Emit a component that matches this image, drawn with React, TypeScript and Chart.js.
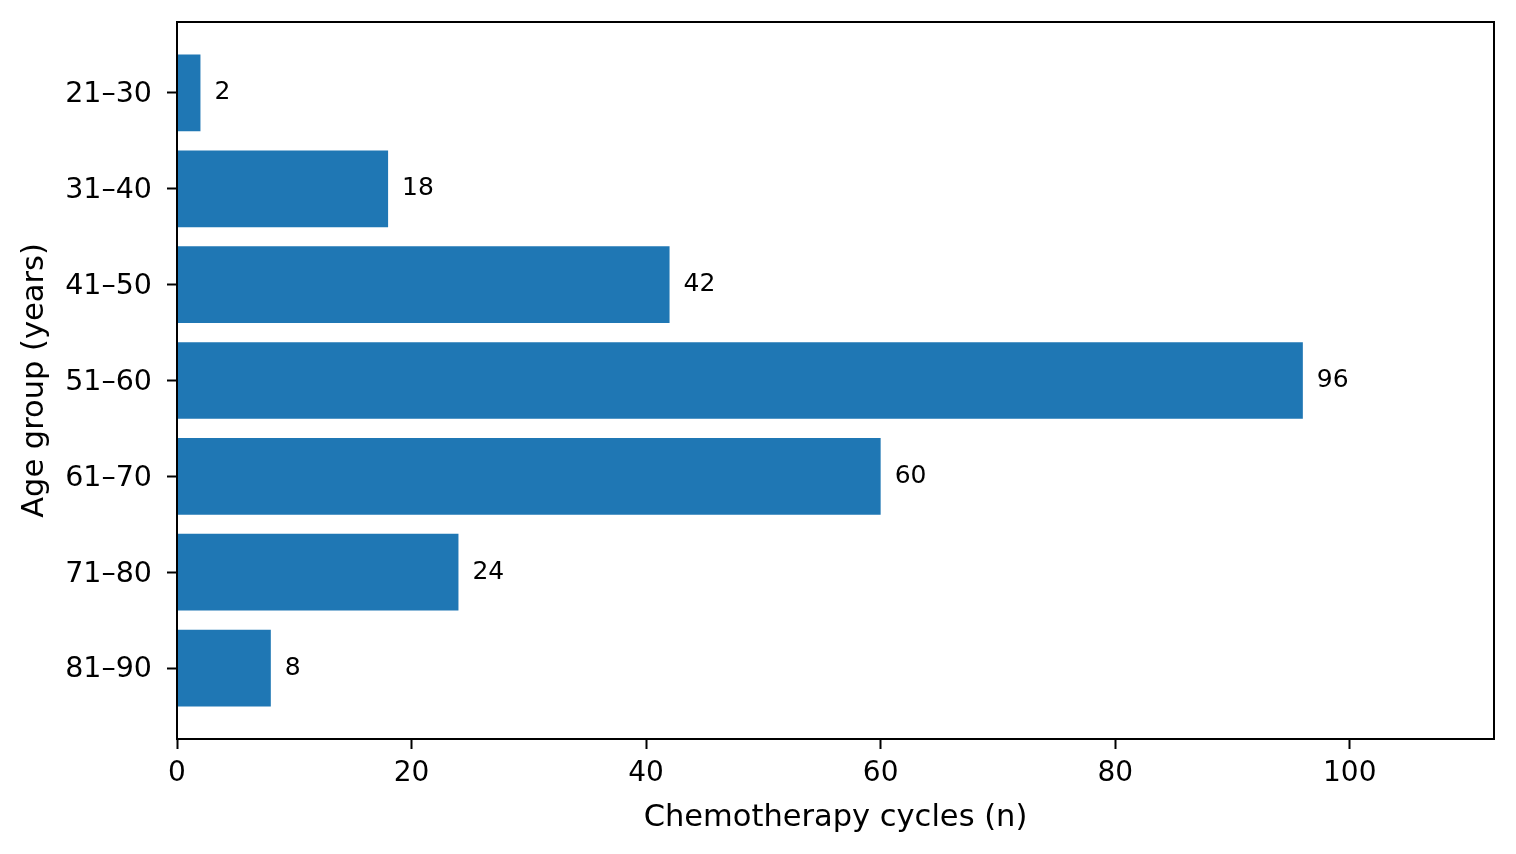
import { useEffect, useRef } from 'react';
import { Chart, registerables } from 'chart.js';

Chart.register(...registerables);

const ageGroups = ['21–30', '31–40', '41–50', '51–60', '61–70', '71–80', '81–90'];
const cycles = [2, 18, 42, 96, 60, 24, 8];
const xTicks = [0, 20, 40, 60, 80, 100];

const FONT = "'DejaVu Sans', sans-serif";

// draws the value next to each bar end
const valueLabels = {
  id: 'valueLabels',
  afterDatasetsDraw(chart: Chart) {
    const ctx = chart.ctx;
    const meta = chart.getDatasetMeta(0);
    ctx.save();
    ctx.fillStyle = '#000';
    ctx.font = `25px ${FONT}`;
    ctx.textAlign = 'left';
    ctx.textBaseline = 'middle';
    meta.data.forEach((bar: any, i: number) => {
      ctx.fillText(String(cycles[i]), bar.x + 14, bar.y);
    });
    ctx.restore();
  },
};

// matplotlib-style box around the plot
const frame = {
  id: 'frame',
  afterDraw(chart: Chart) {
    const { ctx, chartArea } = chart;
    ctx.save();
    ctx.strokeStyle = '#000';
    ctx.lineWidth = 2;
    ctx.strokeRect(chartArea.left, chartArea.top, chartArea.right - chartArea.left, chartArea.bottom - chartArea.top);
    ctx.restore();
  },
};

export default function App() {
  const canvasRef = useRef<HTMLCanvasElement>(null);
  const chartRef = useRef<Chart | null>(null);

  useEffect(() => {
    if (!canvasRef.current) return;
    const ctx = canvasRef.current.getContext('2d');
    if (!ctx) return;

    if (chartRef.current) chartRef.current.destroy();

    chartRef.current = new Chart(ctx, {
      type: 'bar',
      data: {
        datasets: [{
          data: cycles.map((v, i) => ({ x: v, y: i })),
          backgroundColor: '#1f77b4',
          borderWidth: 0,
          categoryPercentage: 1,
          barPercentage: 0.8,
        }],
      },
      plugins: [valueLabels, frame],
      options: {
        indexAxis: 'y',
        animation: false,
        responsive: true,
        maintainAspectRatio: false,
        layout: { padding: { top: 22, right: 22, left: 0, bottom: 0 } },
        plugins: {
          legend: { display: false },
          tooltip: { enabled: false },
        },
        scales: {
          x: {
            type: 'linear',
            min: 0,
            max: 112.3,
            afterBuildTicks: (scale: any) => {
              scale.ticks = xTicks.map(v => ({ value: v }));
            },
            afterFit: (scale: any) => {
              scale.height = 115;
              scale.paddingLeft = 0;
              scale.paddingRight = 0;
            },
            grid: {
              drawOnChartArea: false,
              drawTicks: true,
              tickLength: 10,
              tickWidth: 2,
              tickColor: '#000',
            },
            border: { display: false },
            ticks: {
              color: '#000',
              padding: 8,
              font: { family: FONT, size: 28 },
              maxRotation: 0,
            },
            title: {
              display: true,
              text: 'Chemotherapy cycles (n)',
              color: '#000',
              font: { family: FONT, size: 30.5 },
              padding: { top: 0, bottom: 18 },
            },
          },
          y: {
            type: 'linear',
            min: -0.74,
            max: 6.74,
            reverse: true,
            offset: false,
            afterBuildTicks: (scale: any) => {
              scale.ticks = ageGroups.map((_, i) => ({ value: i }));
            },
            afterFit: (scale: any) => {
              scale.width = 177;
              scale.paddingTop = 0;
              scale.paddingBottom = 0;
            },
            grid: {
              offset: false,
              drawOnChartArea: false,
              drawTicks: true,
              tickLength: 10,
              tickWidth: 2,
              tickColor: '#000',
            },
            border: { display: false },
            ticks: {
              color: '#000',
              padding: 15,
              labelOffset: 2,
              font: { family: FONT, size: 28.5 },
              callback: (value: any) => ageGroups[value] ?? '',
            },
            title: {
              display: true,
              text: 'Age group (years)',
              color: '#000',
              font: { family: FONT, size: 30.5 },
              padding: { top: 17, bottom: 0 },
            },
          },
        },
      },
    });

    return () => {
      if (chartRef.current) {
        chartRef.current.destroy();
        chartRef.current = null;
      }
    };
  }, []);

  return (
    <div style={{ position: 'fixed', left: 0, top: 0, width: 1516, height: 854, background: '#fff' }}>
      <canvas ref={canvasRef}></canvas>
    </div>
  );
}
